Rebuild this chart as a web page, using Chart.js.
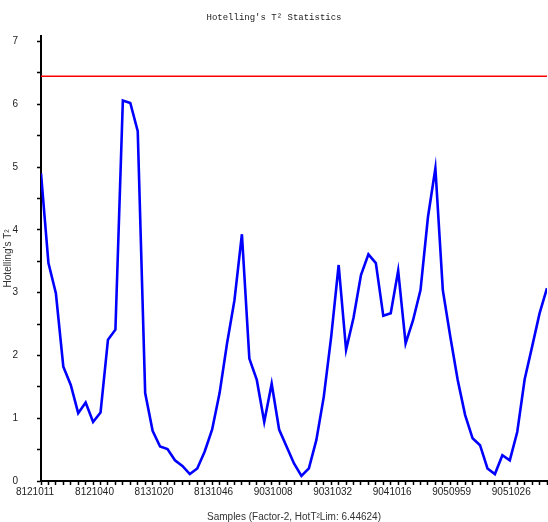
<!DOCTYPE html>
<html>
<head>
<meta charset="utf-8">
<script src="https://cdn.jsdelivr.net/npm/chart.js@4/dist/chart.umd.min.js"></script>
<style>
  html, body { margin: 0; padding: 0; background: #fff; }
  #wrap { width: 548px; height: 522px; }
</style>
</head>
<body>
<div id="wrap"><canvas id="c" width="548" height="522"></canvas></div>
<script>
const chartTitle = "Hotelling's T² Statistics";
const yAxisTitle = "Hotelling's T²";
const xAxisTitle = "Samples (Factor-2, HotT²Lim: 6.44624)";
const xTickLabels = ["8121011", "8121040", "8131020", "8131046", "9031008", "9031032", "9041016", "9050959", "9051026"];
const labelEvery = 8;
const t2Values = [
  4.90, 3.47, 2.99, 1.82, 1.53, 1.08, 1.25, 0.94, 1.09, 2.25,
  2.41, 6.06, 6.02, 5.57, 1.40, 0.80, 0.55, 0.51, 0.33, 0.24,
  0.11, 0.20, 0.47, 0.82, 1.40, 2.19, 2.88, 3.93, 1.95, 1.61,
  0.94, 1.55, 0.82, 0.55, 0.28, 0.08, 0.20, 0.65, 1.34, 2.30,
  3.44, 2.09, 2.60, 3.28, 3.61, 3.47, 2.63, 2.67, 3.35, 2.19,
  2.56, 3.04, 4.20, 4.98, 3.04, 2.30, 1.61, 1.05, 0.68, 0.57,
  0.20, 0.11, 0.41, 0.33, 0.78, 1.62, 2.14, 2.67, 3.07
];
const t2Limit = 6.44624;
const yTickValues = [0, 0.5, 1, 1.5, 2, 2.5, 3, 3.5, 4, 4.5, 5, 5.5, 6, 6.5, 7];

const seriesPoints = t2Values.map((v, i) => ({ x: i, y: v }));
const lastIndex = t2Values.length - 1;
const limitPoints = [{ x: 0, y: t2Limit }, { x: lastIndex, y: t2Limit }];

new Chart(document.getElementById('c'), {
  type: 'line',
  data: {
    datasets: [
      { data: limitPoints, borderColor: '#ff0000', borderWidth: 1.5, pointRadius: 0, tension: 0 },
      { data: seriesPoints, borderColor: '#0000ff', borderWidth: 2.6, pointRadius: 0, tension: 0 }
    ]
  },
  options: {
    responsive: false,
    animation: false,
    events: [],
    layout: { padding: { left: 0, right: 0, top: 0, bottom: 0 } },
    plugins: {
      legend: { display: false },
      tooltip: { enabled: false },
      title: {
        display: true,
        text: chartTitle,
        color: '#222',
        font: { family: 'Liberation Mono', size: 9, weight: 'normal' },
        padding: { top: 12, bottom: 13 }
      }
    },
    scales: {
      x: {
        type: 'linear',
        min: 0,
        max: lastIndex,
        afterBuildTicks: (s) => { s.ticks = t2Values.map((_, i) => ({ value: i })); },
        afterFit: (s) => { s.height = 41; },
        ticks: {
          autoSkip: false,
          maxRotation: 0,
          minRotation: 0,
          padding: 1,
          labelOffset: -6,
          color: '#222',
          font: { family: 'Liberation Sans', size: 10 },
          callback: (v) => (v % labelEvery === 0 ? xTickLabels[v / labelEvery] : '')
        },
        grid: { drawOnChartArea: false, drawTicks: true, tickLength: 4, color: '#000', tickWidth: 1.5 },
        border: { display: true, color: '#000', width: 2 },
        title: {
          display: true,
          text: xAxisTitle,
          color: '#333',
          font: { family: 'Liberation Sans', size: 10 },
          padding: { top: 0, bottom: -1 }
        }
      },
      y: {
        type: 'linear',
        min: 0,
        max: 7.09,
        afterBuildTicks: (s) => { s.ticks = yTickValues.map(v => ({ value: v })); },
        afterFit: (s) => { s.width = 41; },
        ticks: {
          autoSkip: false,
          padding: 19,
          color: '#222',
          font: { family: 'Liberation Sans', size: 10 },
          callback: (v) => (v % 1 === 0 ? String(v) : '')
        },
        grid: { drawOnChartArea: false, drawTicks: true, tickLength: 4, color: '#000', tickWidth: 1.5 },
        border: { display: true, color: '#000', width: 2 },
        title: {
          display: true,
          text: yAxisTitle,
          color: '#333',
          font: { family: 'Liberation Sans', size: 10 },
          padding: { top: 2, bottom: 0 }
        }
      }
    }
  }
});
</script>
</body>
</html>
